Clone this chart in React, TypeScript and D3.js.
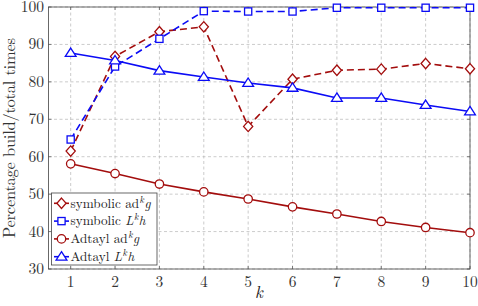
import React from "react";
import * as d3 from "d3";

const ks = [1, 2, 3, 4, 5, 6, 7, 8, 9, 10];
const symbolicAd = [61.5, 86.8, 93.4, 94.7, 68.1, 80.7, 83.1, 83.4, 84.9, 83.5];
const symbolicL = [64.6, 84.1, 91.5, 98.9, 98.8, 98.8, 99.8, 99.8, 99.8, 99.8];
const adtaylAd = [58.1, 55.5, 52.7, 50.6, 48.7, 46.6, 44.7, 42.7, 41.1, 39.7];
const adtaylL = [87.7, 85.7, 83.0, 81.3, 79.7, 78.4, 75.7, 75.7, 73.8, 72.1];
const yTicks = [30, 40, 50, 60, 70, 80, 90, 100];

const RED = "#a30d0d";
const BLUE = "#0b0bf5";
const FONT = '"Latin Modern Roman"';

type Series = { name: string; values: number[]; color: string; dashed: boolean; marker: string };

const series: Series[] = [
  { name: "symAd", values: symbolicAd, color: RED, dashed: true, marker: "diamond" },
  { name: "symL", values: symbolicL, color: BLUE, dashed: true, marker: "square" },
  { name: "adAd", values: adtaylAd, color: RED, dashed: false, marker: "circle" },
  { name: "adL", values: adtaylL, color: BLUE, dashed: false, marker: "triangle" },
];

function Marker({ type, x, y, color }: { type: string; x: number; y: number; color: string }) {
  const sw = 1.3;
  if (type === "diamond") {
    return <path d={`M${x},${y - 5.2}L${x + 4.6},${y}L${x},${y + 5.2}L${x - 4.6},${y}Z`} fill="white" stroke={color} strokeWidth={sw} />;
  }
  if (type === "square") {
    return <rect x={x - 3.6} y={y - 3.6} width={7.2} height={7.2} fill="white" stroke={color} strokeWidth={sw} />;
  }
  if (type === "circle") {
    return <circle cx={x} cy={y} r={4.2} fill="white" stroke={color} strokeWidth={sw} />;
  }
  return <path d={`M${x},${y - 5}L${x + 5.4},${y + 3.4}L${x - 5.4},${y + 3.4}Z`} fill="white" stroke={color} strokeWidth={sw} />;
}

export default function App() {
  const W = 478, H = 306;
  const left = 48.5, right = 470, top = 7, bottom = 269;
  const x = d3.scaleLinear().domain([0.5, 10]).range([left, right]);
  const y = d3.scaleLinear().domain([30, 100]).range([bottom, top]);
  const line = d3.line<number>().x((_, i) => x(ks[i])).y((v) => y(v));

  const sup = (s: string) => (
    <tspan fontStyle="italic" fontSize={9.5} dx={0.5} dy={-5}>{s}</tspan>
  );
  const legendLabels = [
    <>symbolic ad{sup("k")}<tspan fontStyle="italic" dx={0.5} dy={5}>g</tspan></>,
    <>symbolic <tspan fontStyle="italic">L</tspan>{sup("k")}<tspan fontStyle="italic" dx={0.5} dy={5}>h</tspan></>,
    <>Adtayl ad{sup("k")}<tspan fontStyle="italic" dx={0.5} dy={5}>g</tspan></>,
    <>Adtayl <tspan fontStyle="italic">L</tspan>{sup("k")}<tspan fontStyle="italic" dx={0.5} dy={5}>h</tspan></>,
  ];

  const lx = 51.5, ly = 193, lw = 105.5, lh = 72;

  return (
    <svg width={W} height={H} style={{ position: "absolute", left: 0, top: 0, fontFamily: FONT }}>
      <rect x={0} y={0} width={W} height={H} fill="white" />
      {ks.map((k) => (
        <line key={"gx" + k} x1={x(k)} x2={x(k)} y1={top} y2={bottom} stroke="#b4b4b4" strokeWidth={0.7} strokeDasharray="3,2.5" />
      ))}
      {yTicks.map((t) => (
        <line key={"gy" + t} x1={left} x2={right} y1={y(t)} y2={y(t)} stroke="#b4b4b4" strokeWidth={0.7} strokeDasharray="3,2.5" />
      ))}
      {ks.map((k) => (
        <g key={"tx" + k}>
          <line x1={x(k)} x2={x(k)} y1={bottom} y2={bottom - 3} stroke="#555" strokeWidth={0.7} />
          <line x1={x(k)} x2={x(k)} y1={top} y2={top + 3} stroke="#555" strokeWidth={0.7} />
          <text x={x(k)} y={287} textAnchor="middle" fontSize={15.5} fill="#333" style={{ fontFamily: FONT }}>{k}</text>
        </g>
      ))}
      {yTicks.map((t) => (
        <g key={"ty" + t}>
          <line x1={left} x2={left + 3} y1={y(t)} y2={y(t)} stroke="#555" strokeWidth={0.7} />
          <line x1={right} x2={right - 3} y1={y(t)} y2={y(t)} stroke="#555" strokeWidth={0.7} />
          <text x={44} y={y(t) + 5} textAnchor="end" fontSize={15.5} fill="#333" style={{ fontFamily: FONT }}>{t}</text>
        </g>
      ))}
      <rect x={left} y={top} width={right - left} height={bottom - top} fill="none" stroke="#444" strokeWidth={0.8} />
      {series.map((s) => (
        <g key={s.name}>
          <path d={line(s.values) || ""} fill="none" stroke={s.color} strokeWidth={1.6} strokeDasharray={s.dashed ? "7,4" : undefined} />
          {s.values.map((v, i) => (
            <Marker key={i} type={s.marker} x={x(ks[i])} y={y(v)} color={s.color} />
          ))}
        </g>
      ))}
      <rect x={lx} y={ly} width={lw} height={lh} fill="white" stroke="#444" strokeWidth={0.8} />
      {series.map((s, i) => {
        const cy = 203.3 + i * 17.8;
        return (
          <g key={"lg" + i}>
            <line x1={54} x2={69} y1={cy} y2={cy} stroke={s.color} strokeWidth={1.6} />
            <Marker type={s.marker} x={61.5} y={cy} color={s.color} />
            <text x={70.5} y={cy + 4.3} fontSize={13.2} fill="#222" style={{ fontFamily: FONT }}>{legendLabels[i]}</text>
          </g>
        );
      })}
      <text x={259} y={298} textAnchor="middle" fontSize={17} fontStyle="italic" fill="#222" style={{ fontFamily: FONT }}>k</text>
      <text transform={`translate(15,${(top + bottom) / 2}) rotate(-90)`} textAnchor="middle" fontSize={16.5} fill="#333" textLength={200} lengthAdjust="spacing" style={{ fontFamily: FONT }}>
        Percentage build/total times
      </text>
    </svg>
  );
}
